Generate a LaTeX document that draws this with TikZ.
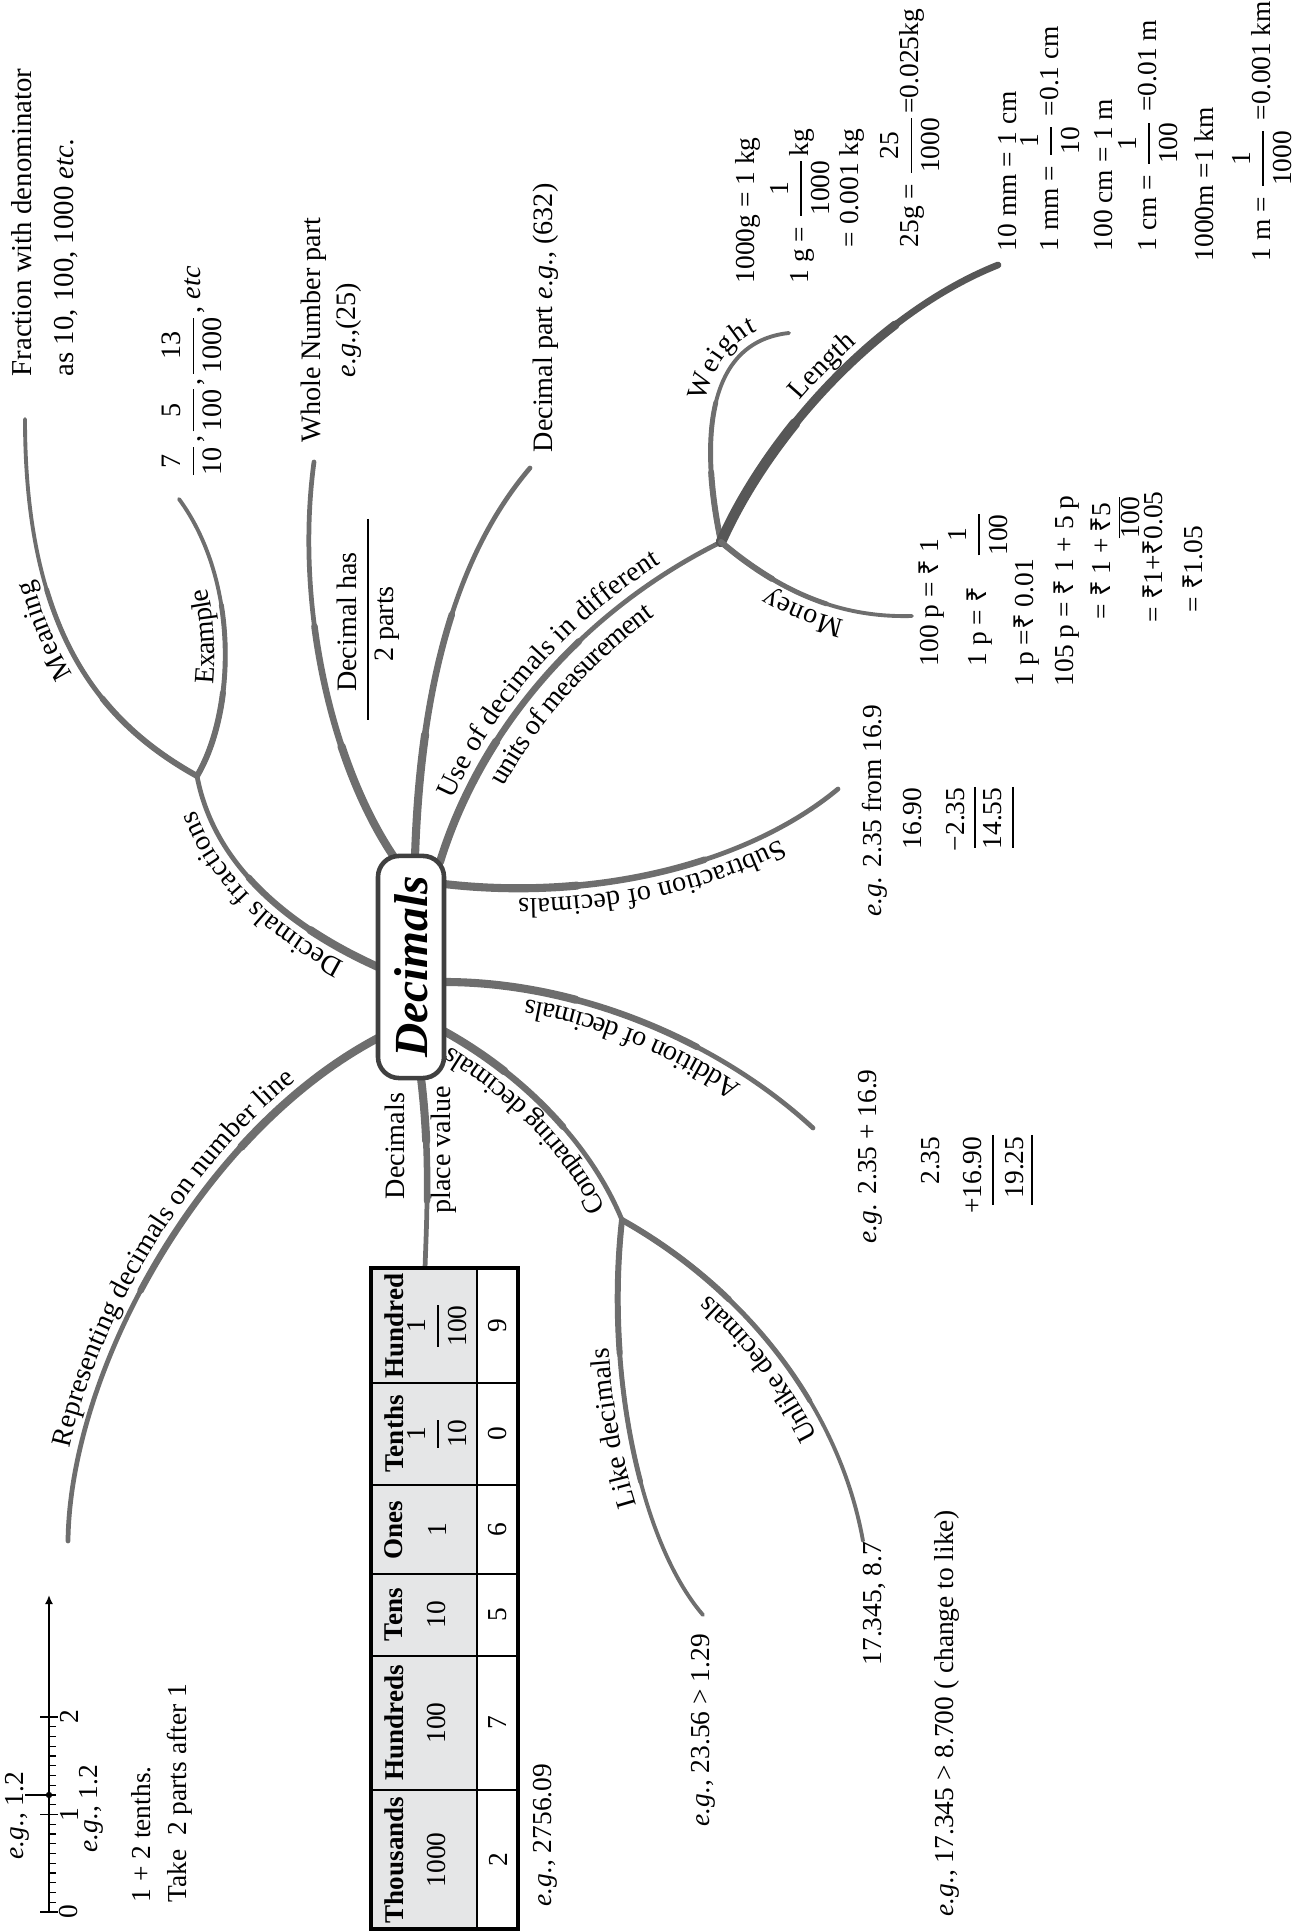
\documentclass[tikz,border=0pt]{standalone}
\usepackage{amsmath}
\usepackage{fontspec}
\setmainfont{Liberation Serif}
\newfontfamily\rupeefont{Noto Sans}
\usetikzlibrary{arrows.meta,decorations.text}
\definecolor{BranchGray}{HTML}{6E6E6E}
\definecolor{LengthGray}{HTML}{575757}
\definecolor{HeadCell}{HTML}{E5E6E7}
\newcommand{\lblfont}{\fontsize{8}{10}\selectfont}
\newcommand{\exfont}{\fontsize{7.8}{9.5}\selectfont}
\newcommand{\rs}{{\rupeefont ₹}}
\newcommand{\fr}[2]{$\dfrac{\mbox{#1}}{\mbox{#2}}$}
\newcommand{\topfr}[2]{\renewcommand{\arraystretch}{0.85}\begin{tabular}[t]{@{}c@{}}#1\\\hline #2\end{tabular}}

\begin{document}
\begin{tikzpicture}[x=0.01cm,y=0.01cm,
  branch/.style={draw=BranchGray,line width=1.35pt,line cap=round},
  twig/.style={draw=BranchGray,line width=1.1pt,line cap=round},
  taper/.style 2 args={postaction={draw=BranchGray,line width=1.85pt,line cap=round,dash pattern=on #1 off 3000pt},
    postaction={draw=BranchGray,line width=2.3pt,line cap=round,dash pattern=on #2 off 3000pt}},
  twigtaper/.style 2 args={postaction={draw=BranchGray,line width=1.4pt,line cap=round,dash pattern=on #1 off 3000pt},
    postaction={draw=BranchGray,line width=1.7pt,line cap=round,dash pattern=on #2 off 3000pt}},
  blabel/.style={postaction={decorate,decoration={text along path,text={|\lblfont|#1},text align=center,raise=3pt}}},
  vtext/.style={rotate=90,inner sep=0pt,font=\exfont},
  vlabel/.style={rotate=90,inner sep=0pt,font=\lblfont}]
\useasboundingbox (0,0) rectangle (1304,1932);

% branch end points
\coordinate (dfS) at (378,965);
\coordinate (fork) at (197,1156);
\coordinate (meanE) at (25,1513);
\coordinate (exE) at (179,1433);
\coordinate (wholeS) at (394,1075);
\coordinate (wholeE) at (314,1470);
\coordinate (partS) at (415,1075);
\coordinate (partE) at (530,1464);
\coordinate (useS) at (440,1070);
\coordinate (useF) at (721,1390);
\coordinate (weightE) at (789,1599);
\coordinate (lengthE) at (998,1667);
\coordinate (moneyE) at (912,1316);
\coordinate (subS) at (444,1048);
\coordinate (subE) at (838,1143);
\coordinate (addS) at (444,950);
\coordinate (addE) at (813,804);
\coordinate (compS) at (440,903);
\coordinate (compF) at (622,712);
\coordinate (likeE) at (703,317);
\coordinate (unlikeE) at (863,391);
\coordinate (placeS) at (421,854);
\coordinate (placeE) at (425,664);
\coordinate (repS) at (378,894);
\coordinate (repE) at (68,391);

% branches
\draw[branch,blabel=Representing decimals on number line] (repE) .. controls (70,560) and (200,800) .. (repS);
\path[taper={100pt}{50pt}] (repS) .. controls (200,800) and (70,560) .. (repE);
\draw[branch,taper={45pt}{22pt},blabel=Decimals fractions] (dfS) .. controls (300,1000) and (215,1060) .. (fork);
\draw[twig,twigtaper={70pt}{35pt},blabel=Meaning] (fork) .. controls (100,1210) and (25,1300) .. (meanE);
\draw[twig,twigtaper={50pt}{25pt},blabel=Example] (fork) .. controls (235,1220) and (240,1350) .. (exE);
\draw[branch,taper={70pt}{35pt}] (wholeS) .. controls (330,1170) and (295,1330) .. (wholeE);
\draw[branch,taper={70pt}{35pt}] (partS) .. controls (420,1230) and (450,1370) .. (partE);
\draw[branch,taper={75pt}{38pt},blabel=Use of decimals in different,
  postaction={decorate,decoration={text along path,text={|\lblfont|units of measurement},text align=center,raise=-8.4pt}}]
  (useS) .. controls (480,1200) and (580,1320) .. (useF);
\draw[twig,twigtaper={40pt}{20pt},postaction={decorate,decoration={text along path,text={|\lblfont|Weight},text align={right,right indent=8pt},raise=3pt}}]
  (useF) .. controls (700,1490) and (705,1590) .. (weightE);
\draw[draw=LengthGray,line width=1.9pt,line cap=round,blabel=Length,
  postaction={draw=LengthGray,line width=2.5pt,line cap=round,dash pattern=on 80pt off 3000pt},
  postaction={draw=LengthGray,line width=3pt,line cap=round,dash pattern=on 40pt off 3000pt}]
  (useF) .. controls (770,1500) and (880,1620) .. (lengthE);
\draw[twig,blabel=Money] (moneyE) .. controls (840,1314) and (780,1340) .. (useF);
\path[twigtaper={35pt}{18pt}] (useF) .. controls (780,1340) and (840,1314) .. (moneyE);
\draw[branch,blabel=Subtraction of decimals] (subE) .. controls (750,1070) and (600,1030) .. (subS);
\path[taper={75pt}{38pt}] (subS) .. controls (600,1030) and (750,1070) .. (subE);
\draw[branch,blabel=Addition of decimals] (addE) .. controls (720,890) and (580,950) .. (addS);
\path[taper={75pt}{38pt}] (addS) .. controls (580,950) and (720,890) .. (addE);
\draw[branch,blabel=Comparing decimals] (compF) .. controls (590,790) and (520,860) .. (compS);
\path[taper={45pt}{22pt}] (compS) .. controls (520,860) and (590,790) .. (compF);
\draw[twig,blabel=Like decimals] (likeE) .. controls (640,390) and (605,560) .. (compF);
\path[twigtaper={75pt}{38pt}] (compF) .. controls (605,560) and (640,390) .. (likeE);
\draw[twig,blabel=Unlike decimals] (unlikeE) .. controls (840,520) and (750,640) .. (compF);
\path[twigtaper={75pt}{38pt}] (compF) .. controls (750,640) and (840,520) .. (unlikeE);
\draw[branch,taper={35pt}{18pt}] (placeS) .. controls (430,780) and (427,720) .. (placeE);

% centre
\node[rotate=90,draw=black!75,line width=1.3pt,fill=white,rounded corners=6pt,minimum width=2.22cm,minimum height=0.66cm,inner sep=0pt,font=\fontsize{13.5}{16}\selectfont\bfseries\itshape] (dec) at (411,965) {Decimals};

% meaning and example
\node[vlabel,align=left,anchor=north west,font=\fontsize{8.2}{12}\selectfont] (fracdef) at (11,1555) {Fraction with denominator\\as 10, 100, 1000 \textit{etc.}};
\node[vlabel,anchor=west] (exfr) at (192,1452) {\fr{7}{10},\fr{5}{100},\fr{13}{1000}, \textit{etc}};
\node[vlabel,align=center] (whole) at (331,1602) {Whole Number part\\\textit{e.g.},(25)};
\node[vlabel] (hasA) at (347,1310) {Decimal has};
\node[vlabel] (hasB) at (387,1308) {2 parts};
\draw[line width=0.6pt] (368,1413) -- (368,1212);
\node[vlabel,anchor=west] (part) at (546,1479) {Decimal part \textit{e.g.}, (632)};

% weight
\node[vtext,anchor=west] (w1) at (748,1648) {1000g = 1 kg};
\node[vtext,anchor=west] (w2) at (800,1648) {1 g = \fr{1}{1000}kg};
\node[vtext,anchor=west] (w3) at (852,1684) {= 0.001 kg};
\node[vtext,anchor=west] (w4) at (910,1684) {25g = \fr{25}{1000}=0.025kg};
% length
\node[vtext,anchor=west] (l1) at (1008,1680) {10 mm = 1 cm};
\node[vtext,anchor=west] (l2) at (1050,1680) {1 mm = \fr{1}{10} =0.1 cm};
\node[vtext,anchor=west] (l3) at (1104,1680) {100 cm = 1 m};
\node[vtext,anchor=west] (l4) at (1148,1680) {1 cm = \fr{1}{100} =0.01 m};
\node[vtext,anchor=west] (l5) at (1204,1670) {1000m =1 km};
\node[vtext,anchor=west] (l6) at (1262,1670) {1 m = \fr{1}{1000} =0.001 km};
% money
\node[vtext,anchor=west] (m1) at (932,1265) {100 p = \rs{} 1};
\node[vtext,anchor=west] (m2) at (978,1265) {1 p = \rs\quad\fr{1}{100}};
\node[vtext,anchor=west] (m3) at (1027,1245) {1 p =\rs{} 0.01};
\node[vtext,anchor=west] (m4) at (1067,1245) {105 p = \rs{} 1 + 5 p};
\node[vtext,anchor=base west] (m5) at (1110,1312) {= \rs{} 1 +\topfr{\rs5}{100}};
\node[vtext,anchor=west] (m6) at (1153,1309) {= \rs1+\rs0.05};
\node[vtext,anchor=west] (m7) at (1193,1319) {= \rs1.05};

% subtraction and addition
\node[vtext,anchor=west] (subeg) at (875,1015) {\textit{e.g.} 2.35 from 16.9};
\node[vtext,anchor=east] (s1) at (913,1145) {16.90};
\node[vtext,anchor=east] (s2) at (956,1145) {−2.35};
\node[vtext,anchor=east] (s3) at (993,1145) {14.55};
\draw[line width=0.5pt] (975,1145) -- (975,1084);
\draw[line width=0.5pt] (1013,1145) -- (1013,1084);
\node[vtext,anchor=west] (addeg) at (870,688) {\textit{e.g.} 2.35 + 16.9};
\node[vtext,anchor=east] (a1) at (931,796) {2.35};
\node[vtext,anchor=east] (a2) at (973,796) {+16.90};
\node[vtext,anchor=east] (a3) at (1015,796) {19.25};
\draw[line width=0.5pt] (993,797) -- (993,727);
\draw[line width=0.5pt] (1032,797) -- (1032,727);

% comparing
\node[vtext,anchor=west] (likeeg) at (703,105) {\textit{e.g.}, 23.56 > 1.29};
\node[vtext,anchor=west] (unlikeeg) at (874,266) {17.345, 8.7};
\node[vtext,anchor=west] (unlikeeg2) at (947,15) {\textit{e.g.}, 17.345 > 8.700 ( change to like)};

% place value table
\fill[HeadCell] (371,3) rectangle (477,664);
\foreach \y in {549,447,358,276,142} \draw[line width=0.5pt] (371,\y) -- (518,\y);
\draw[line width=0.5pt] (477,3) -- (477,664);
\draw[line width=0.9pt] (371,3) rectangle (518,664);
\foreach \nm/\val/\dig/\yc in {Hundred/{\fr{1}{100}}/9/606,Tenths/{\fr{1}{10}}/0/498,Ones/1/6/402,Tens/10/5/317,Hundreds/100/7/209,Thousands/1000/2/72}{
  \node[vtext,font=\fontsize{7.7}{10}\selectfont\bfseries] (h\nm) at (394,\yc) {\nm};
  \node[vtext] (v\nm) at (437,\yc) {\val};
  \node[vtext] (d\nm) at (498,\yc) {\dig};
}
\node[vtext,anchor=west] (pveg) at (545,25) {\textit{e.g.}, 2756.09};
\node[vlabel] (pvA) at (395,786) {Decimals};
\node[vlabel] (pvB) at (444,782) {place value};

% number line
\draw[line width=0.5pt,-{Latex[length=0.9mm,width=0.8mm]}] (49,20) -- (49,337);
\foreach \i in {1,...,19} \draw[line width=0.35pt] (49,{20+9.75*\i}) -- (56,{20+9.75*\i});
\foreach \i in {0,1,2}{
  \draw[line width=0.5pt] (40,{20+97.5*\i}) -- (58,{20+97.5*\i});
  \node[vtext] (tick\i) at (69,{20+97.5*\i}) {\i};
}
\draw[line width=0.5pt] (25,137) -- (49,137);
\fill (49,137) circle (0.9pt);
\node[vtext,anchor=west] (nl1) at (17,72) {\textit{e.g.}, 1.2};
\node[vtext,anchor=west] (nl2) at (91,79) {\textit{e.g.}, 1.2};
\node[vtext,anchor=west] (nl3) at (141,29) {1 + 2 tenths.};
\node[vtext,anchor=west] (nl4) at (180,29) {Take\ \ 2 parts after 1};
\end{tikzpicture}
\end{document}
